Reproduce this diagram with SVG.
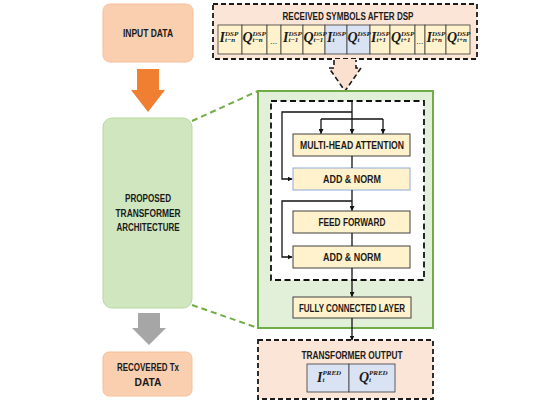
<svg xmlns="http://www.w3.org/2000/svg" width="540" height="409" viewBox="0 0 540 409">
<defs>
<marker id="ah" viewBox="0 0 10 10" refX="9" refY="5" markerWidth="5" markerHeight="5" orient="auto" markerUnits="userSpaceOnUse">
<path d="M0,0 L10,5 L0,10 z" fill="#111"/>
</marker>
<style>
.lbl{font-family:"Liberation Sans",Arial,sans-serif;font-weight:bold;font-size:10.5px;fill:#1a1a1a;text-anchor:middle}
.side{fill:#f9cfb0;stroke:#f6bf98;stroke-width:1}
.blk{fill:#fff2cc;stroke:#404040;stroke-width:1}
.cell{fill:#fff2cc;stroke:#3a3a3a;stroke-width:0.8}
.bcell{fill:#dae3f3;stroke:#3a3a3a;stroke-width:0.8}
.dash{fill:#fbe5d6;stroke:#1a1a1a;stroke-width:1.8;stroke-dasharray:5 3}
.m{font-family:"Liberation Serif","Times New Roman",serif;font-style:italic;font-weight:bold;font-size:14px;fill:#1a1a1a}
.s{font-family:"Liberation Serif","Times New Roman",serif;font-style:italic;font-weight:bold;font-size:7px;fill:#1a1a1a}
.c{fill:none;stroke:#111;stroke-width:1.3}
.g{fill:none;stroke:#70ad47;stroke-width:2;stroke-dasharray:6 4}
</style>
</defs>
<rect width="540" height="409" fill="#ffffff"/>

<g id="input-data">
<rect class="side" x="103" y="4" width="90" height="58" rx="7"/>
<text class="lbl" x="148" y="37" textLength="50" lengthAdjust="spacingAndGlyphs">INPUT DATA</text>
</g>

<g id="orange-arrow">
<polygon points="137,69 159,69 159,90 165,90 148,112 131,90 137,90" fill="#f07f32"/>
</g>

<g id="proposed">
<rect x="103" y="118" width="89" height="190" rx="9" fill="#cfe6bf" stroke="#b7d9a0" stroke-width="1"/>
<text class="lbl" x="148" y="202" textLength="46" lengthAdjust="spacingAndGlyphs">PROPOSED</text>
<text class="lbl" x="148" y="217" textLength="65" lengthAdjust="spacingAndGlyphs">TRANSFORMER</text>
<text class="lbl" x="148" y="231" textLength="63" lengthAdjust="spacingAndGlyphs">ARCHITECTURE</text>
</g>

<g id="gray-arrow">
<polygon points="138,313 160,313 160,328 166,328 149,345 132,328 138,328" fill="#a6a6a6"/>
</g>

<g id="recovered">
<rect class="side" x="103" y="352" width="89" height="44" rx="6"/>
<text class="lbl" x="148" y="371" textLength="62" lengthAdjust="spacingAndGlyphs">RECOVERED Tx</text>
<text class="lbl" x="148" y="386" textLength="27" lengthAdjust="spacingAndGlyphs">DATA</text>
</g>

<g id="received-symbols">
<rect class="dash" x="213" y="4" width="264" height="55"/>
<text class="lbl" x="348" y="19.5" textLength="131" lengthAdjust="spacingAndGlyphs">RECEIVED SYMBOLS AFTER DSP</text>
<rect class="cell" x="218" y="25" width="24" height="29"/>
<rect class="cell" x="242" y="25" width="25" height="29"/>
<rect class="cell" x="267" y="25" width="14" height="29"/>
<rect class="cell" x="281" y="25" width="22" height="29"/>
<rect class="cell" x="303" y="25" width="22" height="29"/>
<rect class="bcell" x="325" y="25" width="22" height="29"/>
<rect class="bcell" x="347" y="25" width="23" height="29"/>
<rect class="cell" x="370" y="25" width="20" height="29"/>
<rect class="cell" x="390" y="25" width="25" height="29"/>
<rect class="cell" x="415" y="25" width="10" height="29"/>
<rect class="cell" x="425" y="25" width="21" height="29"/>
<rect class="cell" x="446" y="25" width="24" height="29"/>

<text class="m" x="219.5" y="42">I</text><text class="s" x="225" y="35.5">DSP</text><text class="s" x="225" y="42">t−n</text>
<text class="m" x="242.5" y="42">Q</text><text class="s" x="252.5" y="35.5">DSP</text><text class="s" x="252.5" y="42">t−n</text>
<text class="s" x="274" y="44" text-anchor="middle">…</text>
<text class="m" x="283" y="42">I</text><text class="s" x="288.5" y="35.5">DSP</text><text class="s" x="288.5" y="42">t−1</text>
<text class="m" x="303.5" y="42">Q</text><text class="s" x="313.5" y="35.5">DSP</text><text class="s" x="313.5" y="42">t−1</text>
<text class="m" x="327" y="42">I</text><text class="s" x="332.5" y="35.5">DSP</text><text class="s" x="332.5" y="42">t</text>
<text class="m" x="347.5" y="42">Q</text><text class="s" x="357.5" y="35.5">DSP</text><text class="s" x="357.5" y="42">t</text>
<text class="m" x="371" y="42">I</text><text class="s" x="376.5" y="35.5">DSP</text><text class="s" x="376.5" y="42">t+1</text>
<text class="m" x="391" y="42">Q</text><text class="s" x="401" y="35.5">DSP</text><text class="s" x="401" y="42">t+1</text>
<text class="s" x="420" y="44" text-anchor="middle">…</text>
<text class="m" x="426.5" y="42">I</text><text class="s" x="432" y="35.5">DSP</text><text class="s" x="432" y="42">t+n</text>
<text class="m" x="447" y="42">Q</text><text class="s" x="457" y="35.5">DSP</text><text class="s" x="457" y="42">t+n</text>
</g>

<g id="dashed-arrow">
<polygon points="334,59 356,59 356,68 361,68 345,91 329,68 334,68" fill="#fbe0d0"/>
<polyline points="334,60 334,68 329,68 345,91 361,68 356,68 356,60" fill="none" stroke="#1a1a1a" stroke-width="1.6" stroke-dasharray="5 3"/>
</g>

<g id="transformer-block">
<rect x="258" y="91" width="175" height="237" fill="#e2efd9" stroke="#70ad47" stroke-width="2"/>
<rect x="271" y="101" width="153" height="179" fill="#ffffff" stroke="#111" stroke-width="1.8" stroke-dasharray="6 3.5"/>
</g>

<g id="multi-head-attention">
<rect class="blk" x="293" y="134" width="117" height="22"/>
<text class="lbl" x="352" y="149" textLength="104" lengthAdjust="spacingAndGlyphs">MULTI-HEAD ATTENTION</text>
</g>
<g id="add-norm-1">
<rect x="293" y="168" width="117" height="22" fill="#fff2cc" stroke="#8faadc" stroke-width="1"/>
<text class="lbl" x="352" y="183" textLength="58" lengthAdjust="spacingAndGlyphs">ADD &amp; NORM</text>
</g>
<g id="feed-forward">
<rect class="blk" x="293" y="211" width="117" height="22"/>
<text class="lbl" x="352" y="226" textLength="67" lengthAdjust="spacingAndGlyphs">FEED FORWARD</text>
</g>
<g id="add-norm-2">
<rect class="blk" x="293" y="246" width="117" height="22"/>
<text class="lbl" x="352" y="261" textLength="58" lengthAdjust="spacingAndGlyphs">ADD &amp; NORM</text>
</g>
<g id="fully-connected">
<rect class="blk" x="293" y="297" width="118" height="21"/>
<text class="lbl" x="352" y="311.5" textLength="106" lengthAdjust="spacingAndGlyphs">FULLY CONNECTED LAYER</text>
</g>

<g id="transformer-output">
<rect class="dash" x="258" y="340" width="175" height="59"/>
<text class="lbl" x="352" y="358.5" textLength="101" lengthAdjust="spacingAndGlyphs">TRANSFORMER OUTPUT</text>
<rect class="bcell" x="307" y="364" width="42" height="28"/>
<rect class="bcell" x="349" y="364" width="46" height="28"/>
<text class="m" x="317" y="382">I</text><text class="s" x="322.5" y="375">PRED</text><text class="s" x="322.5" y="382">t</text>
<text class="m" x="359" y="382">Q</text><text class="s" x="369" y="375">PRED</text><text class="s" x="369" y="382">t</text>
</g>

<g id="connectors">
<line class="g" x1="192" y1="121" x2="258" y2="91"/>
<line class="g" x1="192" y1="305" x2="258" y2="328"/>
<polyline class="c" points="352,101 352,119"/>
<polyline class="c" points="352,112 282,112 282,179 292,179" marker-end="url(#ah)"/>
<polyline class="c" points="321,119 383,119"/>
<line class="c" x1="321" y1="119" x2="321" y2="133.5" marker-end="url(#ah)"/>
<line class="c" x1="352" y1="119" x2="352" y2="133.5" marker-end="url(#ah)"/>
<line class="c" x1="383" y1="119" x2="383" y2="133.5" marker-end="url(#ah)"/>
<line class="c" x1="352" y1="156" x2="352" y2="168"/>
<line class="c" x1="352" y1="190" x2="352" y2="210.5" marker-end="url(#ah)"/>
<polyline class="c" points="352,201 282,201 282,257 292,257" marker-end="url(#ah)"/>
<line class="c" x1="352" y1="233" x2="352" y2="246"/>
<line class="c" x1="352" y1="268" x2="352" y2="296.5" marker-end="url(#ah)"/>
<line class="c" x1="352" y1="318" x2="352" y2="340" marker-end="url(#ah)"/>
</g>
</svg>
